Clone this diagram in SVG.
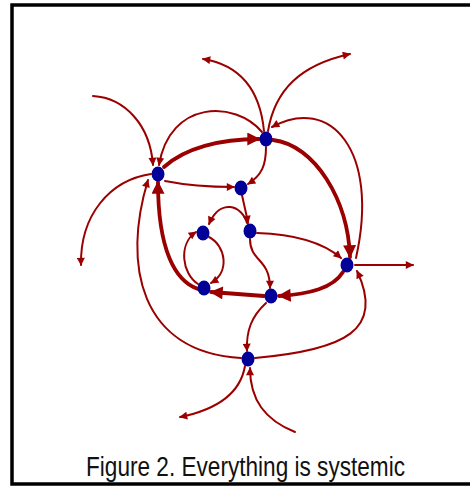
<svg xmlns="http://www.w3.org/2000/svg" width="470" height="488" viewBox="0 0 470 488">
<style>
.e{fill:none;stroke:#9b0000;stroke-linecap:round}
.t{stroke-width:2;marker-end:url(#ah)}
.k{stroke-width:3.8;marker-end:url(#ahk)}
.n{fill:#000099}
.cap{font-family:"Liberation Sans",Arial,sans-serif;font-size:27px;fill:#111}
</style>
<defs>
<marker id="ah" viewBox="0 0 10 10" refX="9" refY="5" markerWidth="10" markerHeight="8" markerUnits="userSpaceOnUse" orient="auto"><path d="M0,0 L10,5 L0,10 z" fill="#9b0000"/></marker>
<marker id="ahk" viewBox="0 0 10 10" refX="9" refY="5" markerWidth="16" markerHeight="13" markerUnits="userSpaceOnUse" orient="auto"><path d="M0,0 L10,5 L0,10 z" fill="#9b0000"/></marker>
</defs>
<rect x="12" y="5" width="470" height="479" fill="#fff" stroke="#000" stroke-width="3.5"/>
<g id="connectors">
<path class="e k" d="M164,167 C185,148 220,139 259,139"/>
<path class="e k" d="M273,140 C315,145 348,200 350,257"/>
<path class="e k" d="M343,272 C333,288 310,294 279,296"/>
<path class="e k" d="M264,296 L211,292"/>
<path class="e k" d="M198,289 C175,281 158,250 158,182"/>
<path class="e t" d="M165,181 Q195,187 234,187"/>
<path class="e t" d="M266,147 C266,165 262,175 248,184"/>
<path class="e t" d="M242,195 C244,205 246,212 248,223"/>
<path class="e t" d="M247,223 C242,205 220,198 209,224"/>
<path class="e t" d="M257,233 C290,234 320,240 341,258"/>
<path class="e t" d="M250,239 C250,262 270,258 270,288"/>
<path class="e t" d="M209,237 C226,246 230,272 211,283"/>
<path class="e t" d="M198,284 C182,274 178,244 196,232"/>
<path class="e t" d="M266,303 C252,316 246,330 247,351"/>
<path class="e t" d="M241,358 C140,352 122,265 148,180"/>
<path class="e t" d="M255,358 C345,350 385,330 357,271"/>
<path class="e t" d="M355,265 L413,265"/>
<path class="e t" d="M356,258 C380,150 330,95 272,127"/>
<path class="e t" d="M264,131 C260,90 240,65 203,59"/>
<path class="e t" d="M268,131 C275,90 300,65 350,54"/>
<path class="e t" d="M262,132 C235,100 170,100 159,165"/>
<path class="e t" d="M93,96 C125,98 150,125 153,165"/>
<path class="e t" d="M151,174 C110,180 80,215 81,265"/>
<path class="e t" d="M245,366 C240,395 215,410 180,417"/>
<path class="e t" d="M295,432 C265,420 250,400 250,368"/>
</g>
<g id="nA"><ellipse class="n" cx="158" cy="174" rx="6.5" ry="7.5"/></g>
<g id="nB"><ellipse class="n" cx="266" cy="139" rx="6.5" ry="7.5"/></g>
<g id="nC"><ellipse class="n" cx="241" cy="188" rx="6.5" ry="7.5"/></g>
<g id="nD"><ellipse class="n" cx="250" cy="231" rx="6.5" ry="7.5"/></g>
<g id="nE"><ellipse class="n" cx="203" cy="233" rx="6.5" ry="7.5"/></g>
<g id="nF"><ellipse class="n" cx="204" cy="288" rx="6.5" ry="7.5"/></g>
<g id="nG"><ellipse class="n" cx="271" cy="296" rx="6.5" ry="7.5"/></g>
<g id="nH"><ellipse class="n" cx="347" cy="265" rx="6.5" ry="7.5"/></g>
<g id="nI"><ellipse class="n" cx="248" cy="359" rx="6.5" ry="7.5"/></g>
<text class="cap" x="86" y="476" textLength="319" lengthAdjust="spacingAndGlyphs">Figure 2. Everything is systemic</text>
</svg>
